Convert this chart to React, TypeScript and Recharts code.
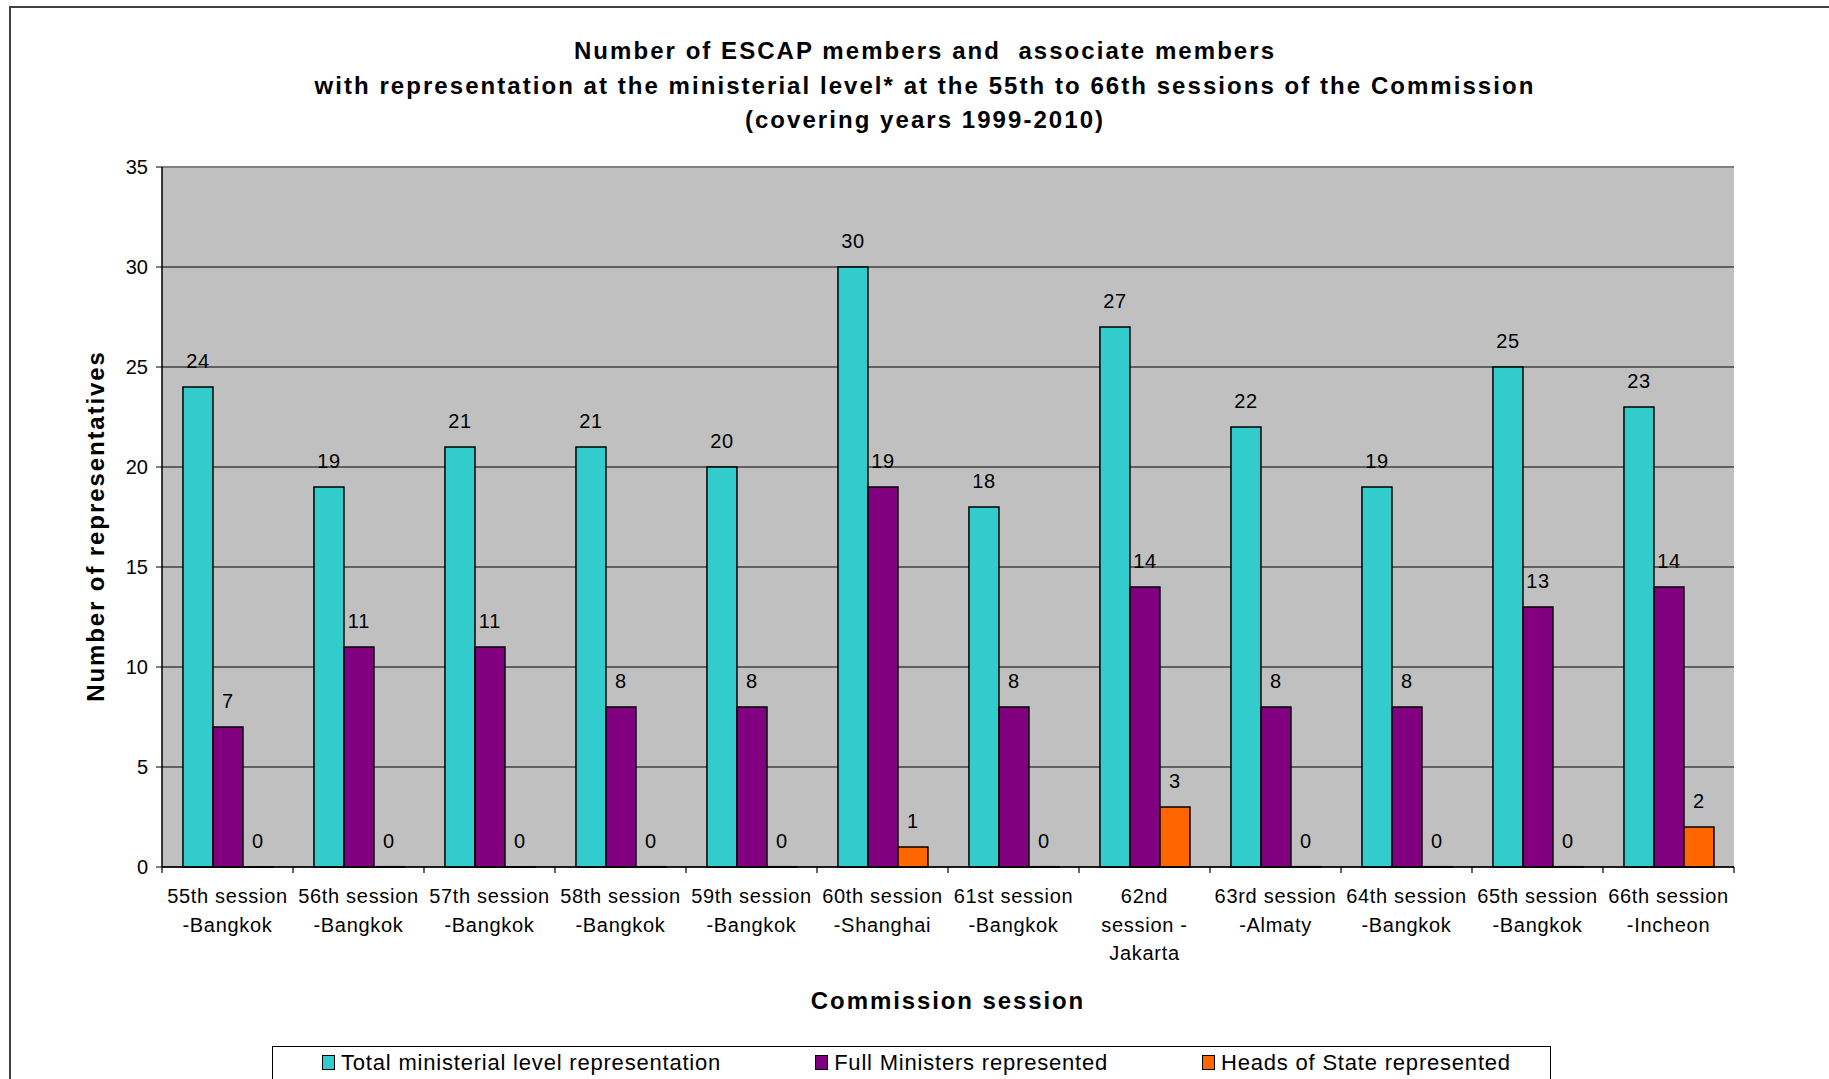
import React from "react";
import {
  BarChart,
  Bar,
  XAxis,
  YAxis,
  CartesianGrid,
  LabelList,
  ReferenceLine,
} from "recharts";

const FONT = "'Liberation Sans', Arial, sans-serif";

const titleLines = [
  "Number of ESCAP members and\u00a0 associate members",
  "with representation at the ministerial level* at the 55th to 66th sessions of the Commission",
  "(covering years 1999-2010)",
];

const sessions = [
  "55th session\n-Bangkok",
  "56th session\n-Bangkok",
  "57th session\n-Bangkok",
  "58th session\n-Bangkok",
  "59th session\n-Bangkok",
  "60th session\n-Shanghai",
  "61st session\n-Bangkok",
  "62nd\nsession -\nJakarta",
  "63rd session\n-Almaty",
  "64th session\n-Bangkok",
  "65th session\n-Bangkok",
  "66th session\n-Incheon",
];

const totalMinisterial = [24, 19, 21, 21, 20, 30, 18, 27, 22, 19, 25, 23];
const fullMinisters = [7, 11, 11, 8, 8, 19, 8, 14, 8, 8, 13, 14];
const headsOfState = [0, 0, 0, 0, 0, 1, 0, 3, 0, 0, 0, 2];

const yTicks = [0, 5, 10, 15, 20, 25, 30, 35];

const series = [
  { key: "total", name: "Total ministerial level representation", color: "#33CCCC" },
  { key: "full", name: "Full Ministers represented", color: "#800080" },
  { key: "heads", name: "Heads of State represented", color: "#FF6600" },
];

const data = sessions.map((session, i) => ({
  session,
  total: totalMinisterial[i],
  full: fullMinisters[i],
  heads: headsOfState[i],
}));

const SessionTick = (props: any) => {
  const { x, y, payload } = props;
  const lines = String(payload.value).split("\n");
  const half = payload.offset ?? 65.5;
  return (
    <g>
      <line x1={x - half} x2={x - half} y1={y} y2={y + 6} stroke="#000" strokeWidth={1.2} />
      {payload.index === sessions.length - 1 && (
        <line x1={x + half} x2={x + half} y1={y} y2={y + 6} stroke="#000" strokeWidth={1.2} />
      )}
      <text
        x={x}
        y={y + 36}
        textAnchor="middle"
        fontSize={20}
        fontFamily={FONT}
        fill="#000"
        style={{ letterSpacing: "0.7px" }}
      >
        {lines.map((l, i) => (
          <tspan key={i} x={x} dy={i === 0 ? 0 : 28.5}>
            {l}
          </tspan>
        ))}
      </text>
    </g>
  );
};

// value above the bar; zero bars get a hairline height so their label is kept
const ValueLabel = (props: any) => {
  const { x, y, width, value } = props;
  if (value === undefined || value === null) return null;
  return (
    <text
      x={Number(x) + Number(width) / 2}
      y={Number(y) - 19}
      textAnchor="middle"
      fontSize={20}
      fontFamily={FONT}
      fill="#000"
      style={{ letterSpacing: "0.7px" }}
    >
      {value}
    </text>
  );
};

export default function App() {
  return (
    <div
      style={{
        position: "absolute",
        left: 0,
        top: 0,
        width: 1829,
        height: 1079,
        overflow: "hidden",
        background: "#fff",
        fontFamily: FONT,
      }}
    >
      {/* outer frame, only top and left edges are inside the picture */}
      <div
        style={{
          position: "absolute",
          left: 9,
          top: 6,
          width: 1900,
          height: 1200,
          borderTop: "2px solid #404040",
          borderLeft: "2px solid #404040",
        }}
      />

      <div
        style={{
          position: "absolute",
          left: 0,
          top: 34,
          width: 1850,
          textAlign: "center",
          fontWeight: "bold",
          fontSize: 24,
          lineHeight: "34.5px",
          letterSpacing: "2.05px",
          color: "#000",
        }}
      >
        {titleLines.map((t) => (
          <div key={t}>{t}</div>
        ))}
      </div>

      <div style={{ position: "absolute", left: 0, top: 0 }}>
        <BarChart
          width={1829}
          height={1079}
          data={data}
          margin={{ top: 167, right: 95, bottom: 112, left: 100 }}
          barCategoryGap="16%"
          barGap={0}
        >
          <CartesianGrid
            vertical={false}
            stroke="#000"
            strokeWidth={1}
            fill="#C0C0C0"
            fillOpacity={1}
          />
          <XAxis
            dataKey="session"
            height={100}
            interval={0}
            tickLine={false}
            tickSize={0}
            tickMargin={0}
            tick={<SessionTick />}
            axisLine={{ stroke: "#000", strokeWidth: 1.5 }}
          />
          <YAxis
            width={62}
            domain={[0, 35]}
            ticks={yTicks}
            interval={0}
            tickSize={6}
            tickMargin={8}
            axisLine={{ stroke: "#000", strokeWidth: 1.5 }}
            tickLine={{ stroke: "#000" }}
            tick={{ fontSize: 20, fill: "#000", fontFamily: FONT }}
          />
          <YAxis
            yAxisId="edge"
            orientation="right"
            width={0}
            domain={[0, 35]}
            tick={false}
            tickLine={false}
            axisLine={{ stroke: "#808080", strokeWidth: 2 }}
          />
          <ReferenceLine y={35} stroke="#808080" strokeWidth={2} />
          {series.map((s) => (
            <Bar
              key={s.key}
              dataKey={s.key}
              name={s.name}
              fill={s.color}
              stroke="#000"
              strokeWidth={1.5}
              minPointSize={0.3}
              isAnimationActive={false}
            >
              <LabelList dataKey={s.key} content={<ValueLabel />} />
            </Bar>
          ))}
        </BarChart>
      </div>

      <div
        style={{
          position: "absolute",
          left: 96 - 300,
          top: 526 - 13,
          width: 600,
          height: 26,
          lineHeight: "26px",
          textAlign: "center",
          transform: "rotate(-90deg)",
          fontWeight: "bold",
          fontSize: 24,
          letterSpacing: "1.9px",
          color: "#000",
        }}
      >
        Number of representatives
      </div>

      <div
        style={{
          position: "absolute",
          left: 948 - 300,
          top: 1001 - 13,
          width: 600,
          height: 26,
          lineHeight: "26px",
          textAlign: "center",
          fontWeight: "bold",
          fontSize: 24,
          letterSpacing: "1.9px",
          color: "#000",
        }}
      >
        Commission session
      </div>

      <div
        style={{
          position: "absolute",
          left: 272,
          top: 1046,
          width: 1279,
          height: 60,
          boxSizing: "border-box",
          border: "1.5px solid #000",
          display: "flex",
          alignItems: "flex-start",
          paddingLeft: 49,
          paddingTop: 3,
          gap: 94,
          fontSize: 22,
          lineHeight: "25px",
          letterSpacing: "0.8px",
          color: "#000",
        }}
      >
        {series.map((s) => (
          <div key={s.key} style={{ display: "flex", alignItems: "center" }}>
            <span
              style={{
                display: "inline-block",
                width: 11,
                height: 13,
                background: s.color,
                border: "1.5px solid #000",
                marginRight: 6,
              }}
            />
            <span>{s.name}</span>
          </div>
        ))}
      </div>
    </div>
  );
}
